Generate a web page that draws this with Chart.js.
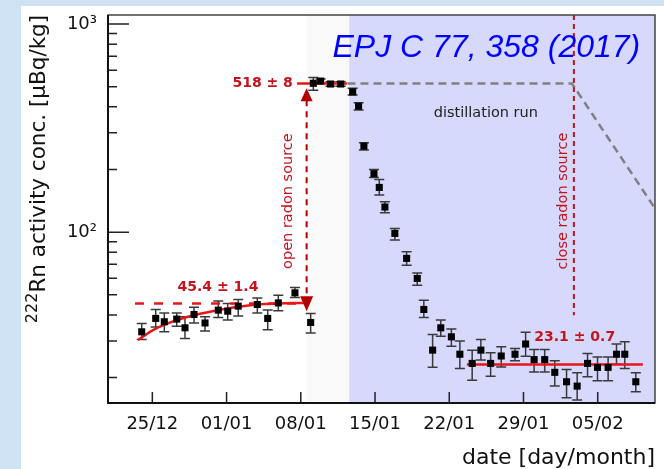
<!DOCTYPE html>
<html>
<head>
<meta charset="utf-8">
<script src="https://cdn.jsdelivr.net/npm/chart.js@4"></script>
<style>
  html, body { margin: 0; padding: 0; background: #cfe2f3; }
  #panel { position: absolute; left: 21px; top: 6px; width: 643px; height: 463px; background: #ffffff; }
</style>
</head>
<body>
<div id="panel"><canvas id="rn-chart" width="643" height="463"></canvas></div>
<script>
Chart.defaults.font.family = 'DejaVu Sans';

// x axis counts days from 25/12
var dayTicks = [0, 7, 14, 21, 28, 35, 42];
var dayLabels = ['25/12', '01/01', '08/01', '15/01', '22/01', '29/01', '05/02'];
var yMajor = [100, 1000];
var yMajorLabels = ['10²', '10³'];
var yMinor = [20, 30, 40, 50, 60, 70, 80, 90, 200, 300, 400, 500, 600, 700, 800, 900];

// measured points (value and error bar ends)
var days = [-1.0, 0.32, 1.13, 2.30, 3.08, 3.93, 4.97, 6.22, 7.11, 8.1, 9.9, 10.88, 11.88, 13.45, 14.93,
    15.18, 15.87, 16.8, 17.76,
    18.89, 19.45, 19.95, 20.9, 21.4, 21.93, 22.87, 23.98, 24.98, 25.6, 26.43, 27.2, 28.2, 29.0, 30.16, 30.98,
    31.9, 32.9, 34.2, 35.2, 36.0, 37.0, 37.95, 39.06, 40.06, 41.04, 41.98, 42.98, 43.77, 44.55, 45.59];
var activity = [33.2, 38.5, 37.1, 38.2, 34.7, 40.2, 36.6, 42.2, 41.7, 44.1, 44.9, 38.5, 45.7, 51.1, 36.8,
    519, 532, 515, 515,
    472, 403, 259, 191, 164, 132, 98.6, 74.8, 59.9, 42.5, 27.1, 34.7, 31.4, 25.9, 23.4, 27.1,
    23.4, 25.4, 25.9, 29.0, 24.4, 24.4, 21.2, 19.1, 18.2, 23.4, 22.4, 22.4, 25.9, 25.9, 19.1];
var errLow = [30.5, 35.0, 33.2, 35.3, 30.8, 36.6, 33.5, 38.9, 37.8, 39.5, 40.9, 34.0, 41.9, 48.5, 32.8,
    481, 519, 502, 502,
    456, 386, 248, 183, 151, 124, 91.6, 69.4, 55.6, 38.9, 22.4, 31.6, 28.3, 22.1, 19.4, 24.3,
    20.3, 22.5, 24.1, 25.3, 21.3, 21.3, 18.2, 16.0, 15.6, 20.2, 19.3, 19.3, 23.2, 22.1, 17.1];
var errHigh = [36.4, 42.5, 40.9, 40.9, 39.2, 43.5, 39.2, 46.7, 45.4, 47.5, 48.3, 42.2, 49.8, 54.2, 40.6,
    554, 544, 528, 528,
    491, 418, 269, 200, 179, 140, 104, 80.4, 63.7, 47.1, 32.2, 37.8, 34.2, 30.0, 27.1, 30.5,
    26.3, 28.1, 27.6, 33.0, 27.3, 27.3, 24.1, 21.9, 21.1, 26.1, 25.1, 25.1, 29.0, 29.7, 21.1];

// fit curve before the source is opened
var fitDays = [-1.38, 0.32, 2.3, 3.93, 6.22, 8.1, 9.9, 11.88, 14.3];
var fitValues = [30.3, 34.4, 37.8, 39.9, 42.2, 43.8, 44.9, 45.4, 45.7];

// fitted levels
var levelBefore = 45.4, levelBeforeDays = [-1.63, 14.4];
var levelSource = 518, levelSourceDays = [13.65, 18.35];
var levelAfter = 23.1, levelAfterDays = [29.66, 46.25];

// expected activity without distillation (grey dashed)
var expectDays = [18.4, 39.55, 39.8, 47.4];
var expectValues = [518, 518, 497, 130];

var openDay = 14.55, distillStart = 18.57, closeDay = 39.75;
var arrowTop = 492, arrowBottom = 41.7, closeLineEnd = 39.9;

function pairs(xs, ys) {
    return xs.map(function (x, i) { return { x: x, y: ys[i] }; });
}

var RED = 'rgb(232, 22, 22)';
var DARKRED = '#c3141e';

var decorations = {
    id: 'decorations',
    beforeDatasetsDraw: function (chart) {
        var ctx = chart.ctx, a = chart.chartArea, xs = chart.scales.x, ys = chart.scales.y;
        ctx.save();
        var xo = xs.getPixelForValue(openDay), xd = xs.getPixelForValue(distillStart);
        ctx.fillStyle = '#f9f9f9';
        ctx.fillRect(xo, a.top, xd - xo, a.bottom - a.top);
        ctx.fillStyle = '#d6d8fc';
        ctx.fillRect(xd, a.top, a.right - xd, a.bottom - a.top);

        // error bars
        ctx.strokeStyle = '#3a3a3a';
        ctx.lineWidth = 1.5;
        for (var i = 0; i < days.length; i++) {
            var x = xs.getPixelForValue(days[i]);
            var y1 = ys.getPixelForValue(errLow[i]), y2 = ys.getPixelForValue(errHigh[i]);
            ctx.beginPath();
            ctx.moveTo(x, y1); ctx.lineTo(x, y2);
            ctx.moveTo(x - 5, y1); ctx.lineTo(x + 5, y1);
            ctx.moveTo(x - 5, y2); ctx.lineTo(x + 5, y2);
            ctx.stroke();
        }
        ctx.restore();
    },
    afterDatasetsDraw: function (chart) {
        var ctx = chart.ctx, a = chart.chartArea, xs = chart.scales.x, ys = chart.scales.y;
        ctx.save();

        // close radon source line
        var xc = xs.getPixelForValue(closeDay);
        ctx.strokeStyle = DARKRED;
        ctx.lineWidth = 2;
        ctx.setLineDash([5, 4]);
        ctx.beginPath();
        ctx.moveTo(xc, a.top);
        ctx.lineTo(xc, ys.getPixelForValue(closeLineEnd));
        ctx.stroke();

        // open radon source arrow
        var xa = xs.getPixelForValue(openDay);
        var yt = ys.getPixelForValue(arrowTop), yb = ys.getPixelForValue(arrowBottom);
        ctx.strokeStyle = '#b30000';
        ctx.setLineDash([6, 5]);
        ctx.beginPath();
        ctx.moveTo(xa, yt + 12);
        ctx.lineTo(xa, yb - 13);
        ctx.stroke();
        ctx.setLineDash([]);
        ctx.fillStyle = '#b30000';
        ctx.beginPath();
        ctx.moveTo(xa, yt); ctx.lineTo(xa - 6, yt + 13); ctx.lineTo(xa + 6, yt + 13);
        ctx.closePath(); ctx.fill();
        ctx.beginPath();
        ctx.moveTo(xa, yb); ctx.lineTo(xa - 6.5, yb - 15); ctx.lineTo(xa + 6.5, yb - 15);
        ctx.closePath(); ctx.fill();

        function txt(s, xv, yv, font, color, align, rot) {
            ctx.save();
            ctx.translate(xs.getPixelForValue(xv), ys.getPixelForValue(yv));
            if (rot) ctx.rotate(rot);
            ctx.font = font;
            ctx.fillStyle = color;
            ctx.textAlign = align || 'center';
            ctx.textBaseline = 'middle';
            ctx.fillText(s, 0, 0);
            ctx.restore();
        }
        txt('518 ± 8', 13.25, levelSource, 'bold 14px "DejaVu Sans"', DARKRED, 'right');
        txt('45.4 ± 1.4', 6.19, 54.4, 'bold 14px "DejaVu Sans"', DARKRED);
        txt('23.1 ± 0.7', 39.83, 31.3, 'bold 14px "DejaVu Sans"', DARKRED);
        txt('distillation run', 31.45, 373, '14.5px "DejaVu Sans"', '#222');
        txt('open radon source', 12.8, 141, '14.5px "DejaVu Sans"', DARKRED, 'center', -Math.PI / 2);
        txt('close radon source', 38.7, 141, '14.5px "DejaVu Sans"', DARKRED, 'center', -Math.PI / 2);
        txt('EPJ C 77, 358 (2017)', 31.5, 767, 'italic 32px "Liberation Sans"', '#0000ff');

        // inward ticks
        ctx.strokeStyle = '#222';
        ctx.lineWidth = 1.5;
        ctx.beginPath();
        yMinor.forEach(function (v) {
            var y = ys.getPixelForValue(v);
            ctx.moveTo(a.left, y); ctx.lineTo(a.left + 9, y);
        });
        yMajor.forEach(function (v) {
            var y = ys.getPixelForValue(v);
            ctx.moveTo(a.left, y); ctx.lineTo(a.left + 21, y);
        });
        dayTicks.forEach(function (d) {
            var x = xs.getPixelForValue(d);
            ctx.moveTo(x, a.bottom); ctx.lineTo(x, a.bottom - 11);
        });
        ctx.stroke();

        // frame
        ctx.strokeStyle = '#444';
        ctx.lineWidth = 1.5;
        ctx.strokeRect(a.left, a.top, a.right - a.left, a.bottom - a.top);
        ctx.strokeStyle = '#111';
        ctx.lineWidth = 2;
        ctx.beginPath();
        ctx.moveTo(a.left, a.top); ctx.lineTo(a.left, a.bottom); ctx.lineTo(a.right, a.bottom);
        ctx.stroke();

        // axis titles
        ctx.fillStyle = '#111';
        ctx.font = '22px "DejaVu Sans"';
        ctx.textBaseline = 'middle';
        ctx.textAlign = 'right';
        ctx.fillText('date [day/month]', a.right, 452);

        var sup = '222', main = 'Rn activity conc. [μBq/kg]';
        var supFont = '16px "DejaVu Sans"', mainFont = '21.5px "DejaVu Sans"';
        ctx.font = supFont;
        var supW = ctx.measureText(sup).width;
        ctx.font = mainFont;
        var mainW = ctx.measureText(main).width;
        ctx.translate(18, 163);
        ctx.rotate(-Math.PI / 2);
        ctx.textAlign = 'left';
        var x0 = -(supW + mainW) / 2;
        ctx.font = supFont;
        ctx.fillText(sup, x0, -6);
        ctx.font = mainFont;
        ctx.fillText(main, x0 + supW, 0);
        ctx.restore();
    }
};

var lineStyle = { showLine: true, pointRadius: 0, borderWidth: 2.5, borderColor: RED, order: 1 };

var config = {
    type: 'scatter',
    data: {
        datasets: [
            {
                data: pairs(days, activity),
                pointStyle: 'rect',
                pointRadius: 5,
                backgroundColor: '#000',
                borderColor: '#000',
                borderWidth: 0,
                order: 0
            },
            Object.assign({}, lineStyle, { data: pairs(fitDays, fitValues), tension: 0.4 }),
            Object.assign({}, lineStyle, {
                data: pairs(levelBeforeDays, [levelBefore, levelBefore]),
                borderDash: [9, 10]
            }),
            Object.assign({}, lineStyle, { data: pairs(levelSourceDays, [levelSource, levelSource]) }),
            Object.assign({}, lineStyle, { data: pairs(levelAfterDays, [levelAfter, levelAfter]) }),
            Object.assign({}, lineStyle, {
                data: pairs(expectDays, expectValues),
                borderColor: '#808080',
                borderDash: [8, 5]
            })
        ]
    },
    options: {
        responsive: false,
        animation: false,
        layout: { padding: { top: 9, right: 9, left: 0, bottom: 0 } },
        plugins: { legend: { display: false }, tooltip: { enabled: false } },
        scales: {
            x: {
                type: 'linear',
                min: -4.18,
                max: 47.4,
                grid: { display: false, drawTicks: false },
                border: { display: false },
                afterBuildTicks: function (s) {
                    s.ticks = dayTicks.map(function (v) { return { value: v }; });
                },
                ticks: {
                    callback: function (v, i) { return dayLabels[i]; },
                    padding: 11,
                    font: { size: 18 },
                    color: '#111',
                    maxRotation: 0,
                    autoSkip: false
                },
                afterFit: function (s) { s.height = 66; s.paddingLeft = 0; s.paddingRight = 0; }
            },
            y: {
                type: 'logarithmic',
                min: 15.1,
                max: 1105,
                grid: { display: false, drawTicks: false },
                border: { display: false },
                afterBuildTicks: function (s) {
                    s.ticks = yMajor.map(function (v) { return { value: v }; });
                },
                ticks: {
                    callback: function (v, i) { return yMajorLabels[i]; },
                    padding: 11,
                    font: { size: 18 },
                    color: '#111',
                    autoSkip: false
                },
                afterFit: function (s) { s.width = 87; s.paddingTop = 0; s.paddingBottom = 0; }
            }
        }
    },
    plugins: [decorations]
};

var rnChart = document.getElementById('rn-chart').getContext('2d');
new Chart(rnChart, config);
</script>
</body>
</html>
